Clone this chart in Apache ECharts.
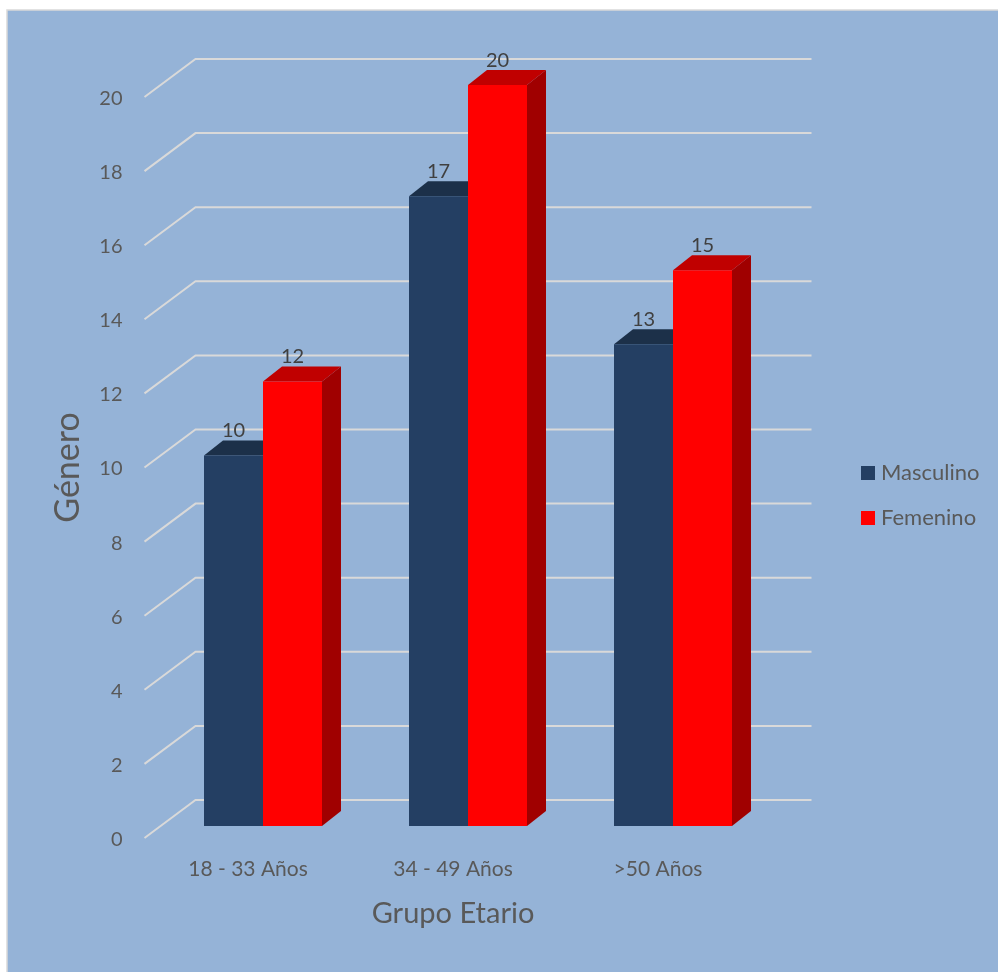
<!DOCTYPE html>
<html>
<head>
<meta charset="utf-8">
<style>
  html, body { margin: 0; padding: 0; background: #fff; }
  #chart { width: 998px; height: 972px; }
</style>
<script src="https://cdn.jsdelivr.net/npm/echarts@6/dist/echarts.min.js"></script>
</head>
<body>
<div id="chart"></div>
<script>
const categories = ['18 - 33 Años', '34 - 49 Años', '>50 Años'];
const masculino = [10, 17, 13];
const femenino = [12, 20, 15];
const gridValues = [0, 2, 4, 6, 8, 10, 12, 14, 16, 18, 20];

const FONT = 'Lato';
const TEXT = '#595959';

// Oblique projection used for the pseudo 3D look
const WALL = { dx: 51, dy: -38 };      // depth of the side wall
const BAR_SHIFT = { dx: 0, dy: -12 };  // bars sit slightly behind the axis plane
const BAR_DEPTH = { dx: 19, dy: -15 };
const BAR_WIDTH = 59;

function prismRenderer(side, front, top, flank) {
  return function (params, api) {
    const value = api.value(1);
    const base = api.coord([api.value(0), 0]);
    const head = api.coord([api.value(0), value]);
    const x0 = base[0] + 15 + (side < 0 ? -BAR_WIDTH : 0);
    const x1 = x0 + BAR_WIDTH;
    const yb = base[1] + BAR_SHIFT.dy;
    const yt = head[1] + BAR_SHIFT.dy;
    const d = BAR_DEPTH;
    return {
      type: 'group',
      children: [
        { type: 'polygon', shape: { points: [[x1, yb], [x1 + d.dx, yb + d.dy], [x1 + d.dx, yt + d.dy], [x1, yt]] }, style: { fill: flank } },
        { type: 'polygon', shape: { points: [[x0, yt], [x0 + d.dx, yt + d.dy], [x1 + d.dx, yt + d.dy], [x1, yt]] }, style: { fill: top } },
        { type: 'rect', shape: { x: x0, y: yt, width: BAR_WIDTH, height: yb - yt }, style: { fill: front } },
        {
          type: 'text',
          style: {
            x: (x0 + x1) / 2, y: yt - 24.5, text: String(value),
            fill: '#404040', font: '20px ' + FONT, align: 'center', verticalAlign: 'middle'
          }
        }
      ]
    };
  };
}

function gridRenderer(params, api) {
  const y = api.coord([0, api.value(0)])[1];
  const x0 = params.coordSys.x - 1;
  const x1 = params.coordSys.x + params.coordSys.width;
  return {
    type: 'polyline',
    shape: { points: [[x0, y], [x0 + WALL.dx, y + WALL.dy], [x1 + WALL.dx, y + WALL.dy]] },
    style: { stroke: '#D9D9D9', lineWidth: 2, fill: null }
  };
}

const chart = echarts.init(document.getElementById('chart'), null, { renderer: 'canvas' });
chart.setOption({
  animation: false,
  graphic: [{
    type: 'rect', z: -10,
    shape: { x: 7, y: 10, width: 1000, height: 1000 },
    style: { fill: '#95B3D7', stroke: '#D9D9D9', lineWidth: 1.5 }
  }],
  grid: { left: 145.5, top: 97, width: 615, height: 741 },
  legend: {
    orient: 'vertical', left: 856, top: 457, itemWidth: 14, itemHeight: 14, itemGap: 23,
    icon: 'rect',
    data: ['Masculino', 'Femenino'],
    textStyle: { color: TEXT, fontFamily: FONT, fontSize: 22, lineHeight: 14, padding: [0, 0, 0, 1] }
  },
  xAxis: {
    type: 'category', data: categories,
    name: 'Grupo Etario', nameLocation: 'middle', nameGap: 61,
    nameTextStyle: { color: TEXT, fontFamily: FONT, fontSize: 29 },
    axisLine: { show: false }, axisTick: { show: false },
    axisLabel: { color: TEXT, fontFamily: FONT, fontSize: 21, margin: 21 }
  },
  yAxis: {
    type: 'value', min: 0, max: 20, interval: 2,
    name: 'Género', nameLocation: 'middle', nameGap: 60,
    nameTextStyle: { color: TEXT, fontFamily: FONT, fontSize: 34 },
    axisLine: { show: false }, axisTick: { show: false }, splitLine: { show: false },
    axisLabel: {
      margin: 23,
      formatter: '{tick|{value}}',
      rich: { tick: { color: TEXT, fontFamily: FONT, fontSize: 20, padding: [3, 0, 0, 0] } }
    }
  },
  series: [
    {
      name: 'grid', type: 'custom', coordinateSystem: 'cartesian2d', clip: false, silent: true, z: 1,
      encode: { y: 0 }, data: gridValues.map(v => [v]), renderItem: gridRenderer
    },
    {
      name: 'Masculino', type: 'custom', clip: false, z: 2,
      itemStyle: { color: '#243F63' }, encode: { x: 0, y: 1 },
      data: masculino.map((v, i) => [i, v]),
      renderItem: prismRenderer(-1, '#243F63', '#1C3049', '#1A2E47')
    },
    {
      name: 'Femenino', type: 'custom', clip: false, z: 3,
      itemStyle: { color: '#FF0000' }, encode: { x: 0, y: 1 },
      data: femenino.map((v, i) => [i, v]),
      renderItem: prismRenderer(1, '#FF0000', '#C00000', '#A00000')
    }
  ]
});
</script>
</body>
</html>
